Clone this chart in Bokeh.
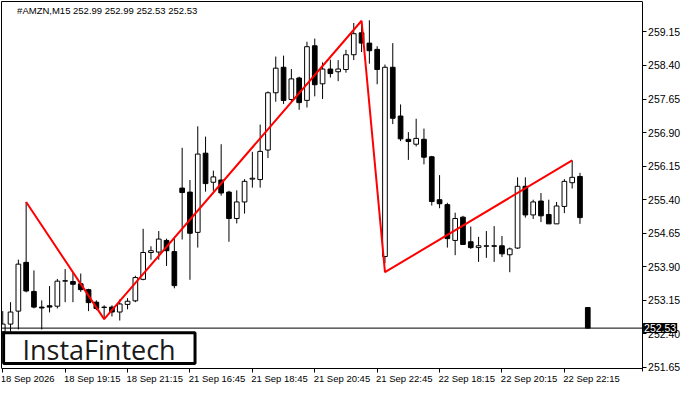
from bokeh.plotting import figure
from bokeh.models import Range1d, FixedTicker, Label, BoxAnnotation, LinearAxis
from bokeh.embed import file_html
from bokeh.resources import INLINE

symbol = "#AMZN,M15"
opens = [252.45, 252.62, 252.91, 254.00, 253.35, 253.00, 253.03, 253.02, 253.58, 253.57,
         253.52, 253.39, 253.11, 252.99, 253.00, 252.89, 253.06, 253.14, 253.62, 254.22,
         254.23, 254.49, 254.24, 255.66, 255.57, 254.67, 256.44, 255.79, 255.84, 255.57,
         254.98, 255.35, 255.86, 255.85, 256.51, 257.79, 258.36, 257.64, 258.12, 257.62,
         258.84, 257.99, 258.32, 258.26, 258.31, 258.64, 259.13, 258.90, 258.76, 254.13,
         258.36, 257.27, 256.75, 256.64, 256.75, 256.36, 255.40, 255.29, 254.49, 255.01,
         254.46, 254.33, 254.36, 254.37, 254.37, 254.17, 254.32, 255.70, 255.06, 255.37,
         255.07, 254.86, 255.25, 255.78, 255.92, 252.99]
highs = [252.91, 253.11, 254.06, 255.35, 253.82, 253.15, 253.47, 253.63, 253.85, 253.78,
         253.75, 253.41, 253.15, 253.04, 253.04, 253.17, 253.20, 253.70, 254.75, 254.36,
         254.70, 254.53, 254.53, 256.56, 255.84, 257.04, 256.81, 256.05, 256.64, 255.60,
         255.61, 255.86, 256.47, 257.08, 257.82, 258.60, 258.62, 258.32, 258.15, 258.93,
         259.00, 258.47, 258.53, 258.52, 258.75, 259.35, 259.38, 259.41, 258.83, 258.42,
         258.90, 257.53, 256.91, 257.21, 256.99, 256.38, 255.95, 255.33, 255.11, 255.04,
         254.80, 254.57, 254.70, 254.81, 254.59, 254.33, 255.90, 255.90, 255.40, 255.55,
         255.40, 255.35, 255.86, 256.28, 256.00, 252.99]
lows = [252.30, 252.45, 252.50, 253.33, 252.97, 252.50, 252.88, 252.97, 253.11, 253.11,
        253.34, 252.91, 252.93, 252.75, 252.79, 252.70, 252.95, 253.11, 253.60, 254.06,
        254.06, 253.92, 253.42, 254.51, 253.61, 254.33, 255.58, 255.60, 255.49, 254.46,
        254.87, 255.09, 255.67, 255.67, 256.33, 257.59, 257.54, 257.60, 257.41, 257.46,
        257.71, 257.65, 258.13, 258.05, 258.24, 258.52, 258.70, 258.44, 257.98, 253.98,
        257.09, 256.71, 256.29, 256.59, 256.19, 255.27, 255.21, 254.33, 254.16, 254.39,
        254.30, 254.01, 254.10, 254.01, 254.12, 253.78, 254.30, 255.00, 254.97, 254.90,
        254.86, 254.86, 255.10, 255.65, 254.86, 252.53]
closes = [252.62, 252.89, 253.96, 253.36, 253.00, 252.98, 253.00, 253.58, 253.59, 253.51,
          253.39, 253.10, 252.97, 253.00, 252.89, 253.07, 253.13, 253.66, 254.22, 254.26,
          254.52, 254.26, 253.48, 255.56, 254.65, 256.42, 255.76, 255.91, 255.55, 254.98,
          255.35, 255.81, 255.88, 256.48, 257.79, 258.34, 257.62, 258.10, 257.57, 258.82,
          257.97, 258.32, 258.22, 258.32, 258.64, 259.11, 258.90, 258.73, 258.31, 258.36,
          257.22, 256.76, 256.70, 256.77, 256.35, 255.36, 255.31, 254.53, 254.98, 254.40,
          254.33, 254.37, 254.37, 254.36, 254.19, 254.30, 255.70, 255.06, 255.35, 255.04,
          254.86, 255.26, 255.81, 255.90, 255.00, 252.53]

# pattern polyline (bar index, price)
pattern_x = [3, 13, 46, 49, 73]
pattern_y = [255.35, 252.73, 259.40, 253.78, 256.28]

time_ticks = [0, 8, 16, 24, 32, 40, 48, 56, 64, 72]
time_labels = ["18 Sep 2026", "18 Sep 19:15", "18 Sep 21:15", "21 Sep 16:45", "21 Sep 18:45",
               "21 Sep 20:45", "21 Sep 22:45", "22 Sep 18:15", "22 Sep 20:15", "22 Sep 22:15"]
price_ticks = [251.65, 252.40, 253.15, 253.90, 254.65, 255.40, 256.15, 256.90, 257.65, 258.40, 259.15]

FONT = "Liberation Sans"
X0, X1, XR = -0.16, 81.96, 87.4      # chart left, price-axis position, canvas right
Y0, Y1, YB = 251.63, 259.83, 251.27  # chart bottom, chart top, canvas bottom

idx = list(range(len(opens)))
tops = [max(o, c) for o, c in zip(opens, closes)]
bots = [min(o, c) for o, c in zip(opens, closes)]
fills = ["white" if c >= o else "black" for o, c in zip(opens, closes)]

p = figure(width=684, height=384, output_backend="svg", toolbar_location=None,
           x_range=Range1d(X0, XR), y_range=Range1d(YB, Y1),
           x_axis_location=None, y_axis_location=None,
           min_border_left=1, min_border_top=1, min_border_right=0, min_border_bottom=0)
p.grid.visible = False
p.outline_line_color = None
p.background_fill_color = "white"
p.border_fill_color = "white"


def line_only_axis(**kw):
    return LinearAxis(ticker=FixedTicker(ticks=[]), axis_line_color="black", axis_line_width=1,
                      major_tick_line_color=None, minor_tick_line_color=None,
                      major_tick_in=0, major_tick_out=0, major_label_standoff=0,
                      major_label_text_font_size="0px", **kw)


# frame lines: left and top
p.add_layout(line_only_axis(bounds=(Y0, Y1)), "left")
p.add_layout(line_only_axis(bounds=(X0, X1)), "above")

# bottom time axis at the chart's bottom edge: tick marks
x_ticks_axis = LinearAxis(fixed_location=Y0, ticker=FixedTicker(ticks=time_ticks), bounds=(X0, X1),
                          major_label_overrides={t: "" for t in time_ticks},
                          axis_line_color="black", major_tick_line_color="black",
                          minor_tick_line_color=None, major_tick_in=0, major_tick_out=4,
                          major_label_standoff=0, major_label_text_font_size="0px")
p.add_layout(x_ticks_axis, "below")

# time labels that start at their tick
half = [len(l) * 0.29 for l in time_labels]
label_pos = [t + h for t, h in zip(time_ticks, half)]
lab_axis = LinearAxis(fixed_location=Y0, ticker=FixedTicker(ticks=label_pos),
                      major_label_overrides={pos: l for pos, l in zip(label_pos, time_labels)},
                      axis_line_color=None, major_tick_line_color=None, minor_tick_line_color=None,
                      major_tick_in=0, major_tick_out=0, major_label_standoff=5,
                      major_label_text_font=FONT, major_label_text_font_size="9.5px",
                      major_label_text_color="black")
p.add_layout(lab_axis, "below")

# price axis at the chart's right edge
price_axis = LinearAxis(fixed_location=X1, ticker=FixedTicker(ticks=price_ticks), bounds=(Y0 - 0.08, Y1),
                        major_label_overrides={t: f"{t:.2f}" for t in price_ticks},
                        axis_line_color="black", major_tick_line_color="black",
                        minor_tick_line_color=None, major_tick_in=0, major_tick_out=4,
                        major_label_standoff=2, major_label_text_font=FONT,
                        major_label_text_font_size="10.5px", major_label_text_color="black")
p.add_layout(price_axis, "right")

p.segment(x0=idx, y0=lows, x1=idx, y1=highs, line_color="black", line_width=1)
p.vbar(x=idx, width=0.6, top=tops, bottom=bots, fill_color=fills, line_color="black", line_width=1)

p.line(pattern_x, pattern_y, line_color="#ff0000", line_width=2)

# current price line
p.segment(x0=[X0], x1=[X1], y0=[closes[-1]], y1=[closes[-1]], line_color="black", line_width=1)

# logo
p.add_layout(BoxAnnotation(left=0.11, right=24.65, bottom=251.742, top=252.425,
                           fill_color="white", fill_alpha=1, line_color="black", line_alpha=1,
                           line_width=3))
p.add_layout(Label(x=12.35, y=252.06, text="InstaFintech", text_align="center", text_baseline="middle",
                   text_font="Open Sans", text_font_size="27px", text_color="#1a1a1a"))

title = f"{symbol}  {opens[-1]:.2f} {highs[-1]:.2f} {lows[-1]:.2f} {closes[-1]:.2f}"
p.add_layout(Label(x=1.84, y=259.63, text=title, text_baseline="middle",
                   text_font=FONT, text_font_size="9.5px", text_color="black"))

p.add_layout(Label(x=X1 + 0.13, y=closes[-1], text=f"{closes[-1]:.2f}",
                   text_baseline="middle", text_align="left", text_font=FONT, text_font_size="10.5px",
                   text_color="white", background_fill_color="black", background_fill_alpha=1,
                   padding=1))

open("out.html", "w").write(file_html(p, INLINE))
